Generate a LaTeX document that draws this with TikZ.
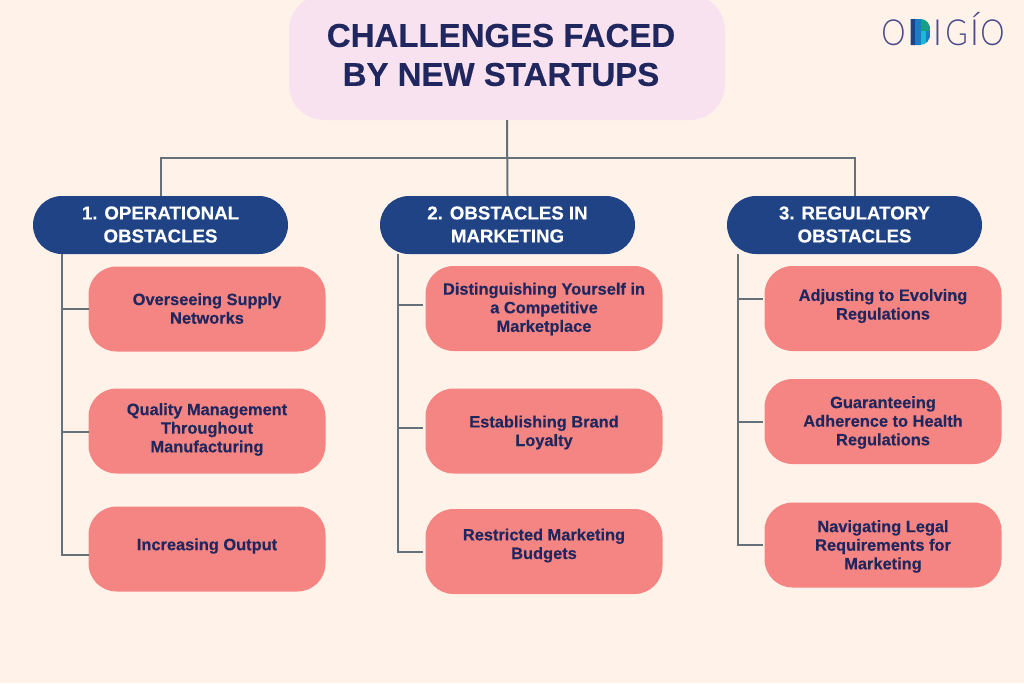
\documentclass[tikz,border=0pt]{standalone}
\usepackage{fontspec}
\setmainfont[BoldFeatures={FakeBold=0.35}]{Liberation Sans}
\newfontfamily\logofont{Lato Light}
\definecolor{bgc}{HTML}{FFF3E9}
\definecolor{titlefill}{HTML}{F9E2EF}
\definecolor{navy}{HTML}{20265E}
\definecolor{headblue}{HTML}{204386}
\definecolor{redbox}{HTML}{F58583}
\definecolor{linec}{HTML}{667078}
\definecolor{logoc}{HTML}{4A4A8C}
\definecolor{logoblue}{HTML}{1B7CC4}
\definecolor{logocyan}{HTML}{1CB8D8}
\definecolor{logoteal}{HTML}{16A085}
\tikzset{
  x=1pt,y=-1pt,
  titlebox/.style={fill=titlefill,rounded corners=35pt,minimum width=436pt,minimum height=125pt,inner sep=0pt},
  titletext/.style={align=center,text=navy,font=\fontsize{33}{39}\selectfont\bfseries,inner sep=0pt},
  headbox/.style={fill=headblue,rounded corners=28.9pt,minimum width=255pt,minimum height=58pt,inner sep=0pt},
  headtext/.style={align=center,text=white,font=\fontsize{18.7}{23}\selectfont\bfseries,inner sep=0pt},
  itembox/.style={fill=redbox,rounded corners=28pt,minimum width=237pt,minimum height=85pt,inner sep=0pt},
  itemtext/.style={align=center,text=navy,font=\fontsize{16.4}{18.6}\selectfont\bfseries,inner sep=0pt},
  conn/.style={draw=linec,line width=2pt},
  logoletter/.style={font=\logofont\fontsize{36}{36}\selectfont,text=logoc,inner sep=0pt,anchor=center},
}
\newcommand{\itm}[5]{%
  \node[itembox] (#1) at (#2,#3) {};
  \node[itemtext] (#1t) at (#2,#4) {#5};
}
\newcommand{\hdr}[4]{%
  \node[headbox] (#1) at (#2,225) {};
  \node[headtext] (#1t) at (#3,224.5) {#4};
}
\begin{document}
\begin{tikzpicture}
\useasboundingbox (0,0) rectangle (1024,683);
\fill[bgc] (0,0) rectangle (1024,683);
\coordinate (bus) at (507,158);
\coordinate (t1) at (62,254); \coordinate (t2) at (398,254); \coordinate (t3) at (738,254);
\coordinate (ea1) at (89,308.5); \coordinate (ea2) at (89,431.5); \coordinate (ea3) at (89,555);
\coordinate (eb1) at (423,305); \coordinate (eb2) at (423,428); \coordinate (eb3) at (423,551.5);
\coordinate (ec1) at (763,298.5); \coordinate (ec2) at (763,421.5); \coordinate (ec3) at (763,544.5);
\begin{scope}
\clip (0,0) rectangle (1024,683);
\node[titlebox] (title) at (507,57.5) {};
\end{scope}
\node[titletext] (titlet) at (501,55) {CHALLENGES FACED\\BY NEW STARTUPS};
\hdr{h1}{160.5}{160.5}{1. OPERATIONAL\\OBSTACLES}
\hdr{h2}{507.5}{507.5}{2. OBSTACLES IN\\MARKETING}
\hdr{h3}{854.5}{854.5}{3. REGULATORY\\OBSTACLES}
\itm{a1}{207}{309}{308.5}{Overseeing Supply\\Networks}
\itm{a2}{207}{431}{429.5}{Quality Management\\Throughout\\Manufacturing}
\itm{a3}{207}{549}{546}{Increasing Output}
\itm{b1}{544}{308.5}{309}{Distinguishing Yourself in\\a Competitive\\Marketplace}
\itm{b2}{544}{431}{432.5}{Establishing Brand\\Loyalty}
\itm{b3}{544}{551.5}{545.5}{Restricted Marketing\\Budgets}
\itm{c1}{883}{308.5}{306}{Adjusting to Evolving\\Regulations}
\itm{c2}{883}{421.5}{422.5}{Guaranteeing\\Adherence to Health\\Regulations}
\itm{c3}{883}{545}{546.5}{Navigating Legal\\Requirements for\\Marketing}
\draw[conn] (title.south) -- (h2.north);
\draw[conn] (h1.north) -- (h1.north |- bus) -- (h3.north |- bus) -- (h3.north);
\draw[conn] (t1) -- (t1 |- ea3) -- (ea3);
\draw[conn] (t1 |- ea1) -- (ea1);
\draw[conn] (t1 |- ea2) -- (ea2);
\draw[conn] (t2) -- (t2 |- eb3) -- (eb3);
\draw[conn] (t2 |- eb1) -- (eb1);
\draw[conn] (t2 |- eb2) -- (eb2);
\draw[conn] (t3) -- (t3 |- ec3) -- (ec3);
\draw[conn] (t3 |- ec1) -- (ec1);
\draw[conn] (t3 |- ec2) -- (ec2);
% logo
\node[logoletter,xscale=.85] (l1) at (893.5,32.5) {O};
\begin{scope}
\clip (910.5,19) -- (920,19) .. controls (926.5,19) and (930.5,24) .. (930.5,32) .. controls (930.5,40) and (926.5,45) .. (920,45) -- (910.5,45) -- cycle;
\fill[headblue] (910,19) rectangle (915,46);
\fill[logoblue] (915,19) rectangle (921,46);
\fill[logocyan] (921,19) rectangle (926,46);
\fill[logoblue] (926,19) rectangle (931,46);
\fill[logoteal] (921,19) rectangle (931,31);
\end{scope}
\node[logoletter] (l3) at (937.5,32.5) {I};
\node[logoletter,xscale=.85] (l4) at (956.5,32.5) {G};
\node[logoletter,anchor=south] (l5) at (974.5,45.5) {Í};
\node[logoletter,xscale=.85] (l6) at (992.5,32.5) {O};
\end{tikzpicture}
\end{document}
